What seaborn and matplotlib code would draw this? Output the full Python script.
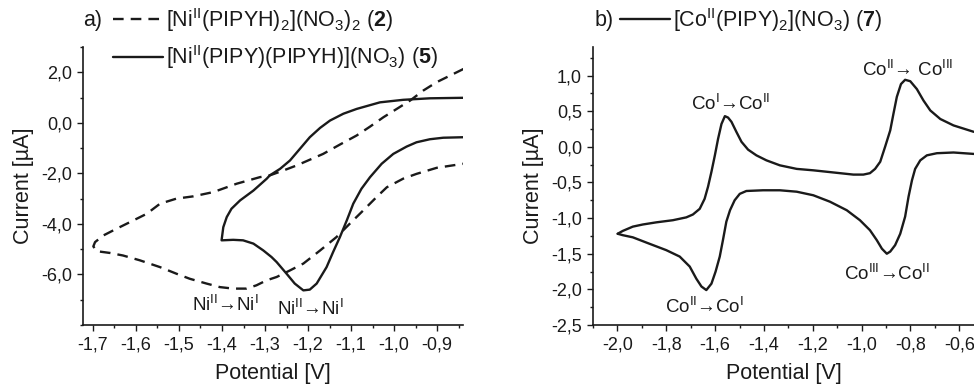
"""Cyclic voltammograms of Ni and Co complexes (two panels)."""

import matplotlib

matplotlib.use("Agg")
import matplotlib.pyplot as plt
import pandas as pd
import seaborn as sns
from matplotlib.ticker import FuncFormatter, MultipleLocator

# ---- data (potential in V, current in µA) ----
# panel a, complex 2 (dashed), closed loop
ni2_potential = [-0.839, -0.870, -0.901, -0.932, -0.963, -0.994, -1.025, -1.056,
                 -1.087, -1.126, -1.165, -1.196, -1.227, -1.258, -1.289, -1.312,
                 -1.366, -1.420, -1.467, -1.506, -1.544, -1.575, -1.614, -1.645,
                 -1.676, -1.695, -1.699,
                 -1.691, -1.660, -1.630, -1.591, -1.544, -1.506, -1.475, -1.436,
                 -1.405, -1.374, -1.343, -1.320, -1.296, -1.273, -1.242, -1.211,
                 -1.172, -1.134, -1.103, -1.072, -1.041, -1.017, -0.979, -0.948,
                 -0.901, -0.839]
ni2_current = [2.13, 1.87, 1.61, 1.28, 0.88, 0.55, 0.22, -0.15,
               -0.50, -0.86, -1.23, -1.46, -1.69, -1.89, -2.08, -2.15,
               -2.41, -2.74, -2.91, -3.00, -3.20, -3.60, -3.93, -4.19,
               -4.46, -4.72, -4.89,
               -5.08, -5.15, -5.25, -5.44, -5.71, -5.97, -6.17, -6.36,
               -6.50, -6.56, -6.56, -6.43, -6.23, -6.10, -5.84, -5.57,
               -5.05, -4.52, -3.99, -3.47, -2.94, -2.55, -2.21, -2.02,
               -1.78, -1.62]

# panel a, complex 5 (solid)
ni5_potential = [-0.839, -0.917, -0.979, -1.033, -1.087, -1.118, -1.149, -1.172,
                 -1.196, -1.219, -1.242, -1.265, -1.289, -1.296, -1.327, -1.358,
                 -1.378, -1.389, -1.397, -1.401,
                 -1.374, -1.351, -1.327, -1.304, -1.285, -1.273, -1.250, -1.231,
                 -1.211, -1.196, -1.180, -1.157, -1.142, -1.126, -1.110, -1.095,
                 -1.076, -1.056, -1.029, -1.002, -0.971, -0.948, -0.917, -0.886,
                 -0.839]
ni5_current = [0.99, 0.97, 0.91, 0.81, 0.55, 0.36, 0.09, -0.20,
               -0.57, -1.03, -1.49, -1.82, -2.08, -2.21, -2.68, -3.07,
               -3.40, -3.73, -4.13, -4.65,
               -4.63, -4.65, -4.78, -5.05, -5.31, -5.51, -5.97, -6.36,
               -6.63, -6.60, -6.36, -5.71, -5.12, -4.52, -3.86, -3.20,
               -2.61, -2.15, -1.62, -1.23, -0.94, -0.77, -0.65, -0.59,
               -0.57]

# panel b, complex 7 (solid): anodic branch and return branch
co7_up_potential = [-1.999, -1.978, -1.937, -1.896, -1.841, -1.773, -1.718, -1.691,
                    -1.663, -1.643, -1.629, -1.615, -1.601, -1.588, -1.574, -1.560,
                    -1.547, -1.533, -1.513, -1.492, -1.465, -1.431, -1.390, -1.335,
                    -1.266, -1.198, -1.116, -1.034, -0.993, -0.966, -0.945, -0.924,
                    -0.904, -0.883, -0.870, -0.856, -0.839, -0.822, -0.801, -0.774,
                    -0.747, -0.719, -0.678, -0.624, -0.541]
co7_up_current = [-1.22, -1.18, -1.12, -1.09, -1.06, -1.03, -0.99, -0.95,
                  -0.87, -0.73, -0.56, -0.35, -0.12, 0.11, 0.32, 0.43,
                  0.41, 0.35, 0.21, 0.07, -0.04, -0.12, -0.19, -0.26,
                  -0.31, -0.33, -0.36, -0.39, -0.39, -0.37, -0.31, -0.21,
                  0.00, 0.23, 0.46, 0.70, 0.88, 0.94, 0.92, 0.81,
                  0.65, 0.51, 0.39, 0.30, 0.21]
co7_down_potential = [-0.541, -0.624, -0.692, -0.733, -0.760, -0.781, -0.794, -0.808,
                      -0.822, -0.842, -0.863, -0.883, -0.897, -0.917, -0.938, -0.966,
                      -1.007, -1.061, -1.130, -1.198, -1.266, -1.335, -1.404, -1.472,
                      -1.499, -1.520, -1.539, -1.554, -1.568, -1.581, -1.598, -1.615,
                      -1.636, -1.656, -1.677, -1.704, -1.745, -1.800, -1.869, -1.937,
                      -1.978, -1.999]
co7_down_current = [-0.10, -0.08, -0.09, -0.12, -0.19, -0.31, -0.47, -0.70,
                    -0.98, -1.22, -1.38, -1.47, -1.50, -1.43, -1.31, -1.17,
                    -1.03, -0.89, -0.77, -0.68, -0.63, -0.61, -0.61, -0.62,
                    -0.66, -0.75, -0.89, -1.05, -1.31, -1.54, -1.75, -1.92,
                    -2.01, -1.96, -1.85, -1.68, -1.54, -1.45, -1.36, -1.27,
                    -1.24, -1.22]

ni_xticks = [-1.7, -1.6, -1.5, -1.4, -1.3, -1.2, -1.1, -1.0, -0.9]
ni_yticks = [-6.0, -4.0, -2.0, 0.0, 2.0]
co_xticks = [-2.0, -1.8, -1.6, -1.4, -1.2, -1.0, -0.8, -0.6]
co_yticks = [-2.5, -2.0, -1.5, -1.0, -0.5, 0.0, 0.5, 1.0]

label_2 = r"[Ni$^{II}$(PIPYH)$_2$](NO$_3$)$_2$ ($\mathbf{2}$)"
label_5 = r"[Ni$^{II}$(PIPY)(PIPYH)](NO$_3$) ($\mathbf{5}$)"
label_7 = r"[Co$^{II}$(PIPY)$_2$](NO$_3$) ($\mathbf{7}$)"

sns.set_theme(style="ticks")
plt.rcParams["font.family"] = ["Liberation Sans", "DejaVu Sans"]
plt.rcParams["mathtext.fontset"] = "custom"
plt.rcParams["mathtext.rm"] = "Liberation Sans"
plt.rcParams["mathtext.bf"] = "Liberation Sans:bold"
plt.rcParams["mathtext.default"] = "regular"
plt.rcParams["axes.unicode_minus"] = False

INK = "#1a1a1a"


def comma(x, pos):
    return f"{x:.1f}".replace(".", ",")


def style_axes(ax, xticks, yticks, xminor, yminor):
    ax.set_xticks(xticks)
    ax.set_yticks(yticks)
    ax.xaxis.set_minor_locator(MultipleLocator(xminor))
    ax.yaxis.set_minor_locator(MultipleLocator(yminor))
    ax.xaxis.set_major_formatter(FuncFormatter(comma))
    ax.yaxis.set_major_formatter(FuncFormatter(comma))
    ax.tick_params(which="major", direction="out", length=4, width=1, color=INK,
                   labelsize=13, labelcolor=INK, pad=4)
    ax.tick_params(which="minor", direction="out", length=2.5, width=1, color=INK)
    for side in ("left", "bottom"):
        ax.spines[side].set_color(INK)
        ax.spines[side].set_linewidth(1.2)
    sns.despine(ax=ax)
    ax.set_xlabel("Potential [V]", fontsize=15.5, color=INK, labelpad=7)
    ax.set_ylabel("Current [µA]", fontsize=15.5, color=INK, labelpad=5)


fig = plt.figure(figsize=(9.74, 3.84), dpi=100)
ax_a = fig.add_axes([83 / 974, 1 - 325 / 384, 380 / 974, 278 / 384])
ax_b = fig.add_axes([593 / 974, 1 - 325 / 384, 381 / 974, 278 / 384])

df_2 = pd.DataFrame({"E": ni2_potential, "I": ni2_current})
df_5 = pd.DataFrame({"E": ni5_potential, "I": ni5_current})
df_7 = pd.concat([
    pd.DataFrame({"E": co7_up_potential, "I": co7_up_current, "branch": "up"}),
    pd.DataFrame({"E": co7_down_potential, "I": co7_down_current, "branch": "down"}),
], ignore_index=True)

sns.lineplot(data=df_2, x="E", y="I", sort=False, estimator=None, ax=ax_a,
             color=INK, linewidth=1.7, linestyle=(0, (4.5, 3)), label=label_2)
sns.lineplot(data=df_5, x="E", y="I", sort=False, estimator=None, ax=ax_a,
             color=INK, linewidth=1.7, label=label_5)
sns.lineplot(data=df_7, x="E", y="I", units="branch", sort=False, estimator=None,
             ax=ax_b, color=INK, linewidth=1.7, label=label_7)

ax_a.set_xlim(-1.723, -0.84)
ax_a.set_ylim(-8.0, 3.0)
ax_b.set_xlim(-2.1, -0.54)
ax_b.set_ylim(-2.5, 1.4)
style_axes(ax_a, ni_xticks, ni_yticks, 0.05, 1.0)
style_axes(ax_b, co_xticks, co_yticks, 0.1, 0.25)

# legends sit above the plotting area, with the panel letter in front
for ax, x0, letter, lx in ((ax_a, 113, "a)", 83), (ax_b, 620, "b)", 595)):
    handles, labels = ax.get_legend_handles_labels()
    seen = {}
    for h, lab in zip(handles, labels):
        seen.setdefault(lab, h)
    ax.legend(list(seen.values()), list(seen.keys()),
              loc="upper left", bbox_to_anchor=(x0 / 974, 1 - 6 / 384),
              bbox_transform=fig.transFigure, frameon=False, fontsize=15.5,
              handlelength=2.3, handletextpad=0.15, labelspacing=0.45,
              borderpad=0, borderaxespad=0, labelcolor=INK)
    fig.text(lx / 974, 1 - 26 / 384, letter, fontsize=15.5, color=INK,
             ha="left", va="baseline")

# peak labels
txt = dict(fontsize=13.5, color=INK, ha="center", va="baseline")
ax_a.text(-1.393, -7.43, r"Ni$^{II}$→Ni$^{I}$", **txt)
ax_a.text(-1.195, -7.62, r"Ni$^{II}$→Ni$^{I}$", **txt)
ax_b.text(-1.536, 0.51, r"Co$^{I}$→Co$^{II}$", **txt)
ax_b.text(-0.814, 1.00, r"Co$^{II}$→ Co$^{III}$", **txt)
ax_b.text(-0.896, -1.87, r"Co$^{III}$→Co$^{II}$", **txt)
ax_b.text(-1.643, -2.33, r"Co$^{II}$→Co$^{I}$", **txt)

fig.savefig("out.png", dpi=100, facecolor="white")
